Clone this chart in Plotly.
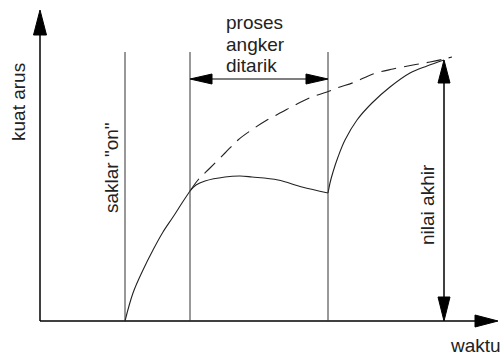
import plotly.graph_objects as go

# ---- data (x = time units, y = current units; origin at axis crossing) ----
AXIS_X0 = 40          # time where axes cross
AXIS_Y_TOP = 311      # top of current axis
AXIS_X_END = 498      # end of time axis
T_ON = 125            # saklar "on"
T_PULL_START = 190    # proses angker ditarik start
T_PULL_END = 328      # proses angker ditarik end
T_FINAL = 444         # nilai akhir
MARK_TOP = 269        # height of vertical marker lines
PULL_ARROW_Y = 242    # height of the double arrow
FINAL_VALUE = 261     # nilai akhir

rise_t = [125, 133, 143, 153, 163, 173, 182, 190]
rise_i = [0, 28, 51, 71, 89, 104, 118, 130]

mid_t = [190, 196, 205, 225, 240, 252, 278, 302, 328]
mid_i = [130, 136, 140, 144, 145, 144, 141, 134, 128]

rec_t = [328, 330, 333, 338, 345, 357, 372, 390, 410, 427, 444]
rec_i = [128, 138, 149, 164, 181, 201, 218, 234, 248, 255, 261]

dash_t = [190, 198, 210, 225, 238, 253, 267, 282, 295, 312, 327, 337, 355, 373, 393, 413, 430, 444, 452]
dash_i = [130, 141, 153, 168, 181, 192, 201, 209, 216, 224, 229, 233, 239, 247, 252, 256, 259, 262, 264]

labels = {
    "y": "kuat arus",
    "x": "waktu",
    "on": 'saklar "on"',
    "pull": ["proses", "angker", "ditarik"],
    "final": "nilai akhir",
}
pull_label_y = [299, 277, 256]

LINE = "#222222"
FONT = dict(family="Liberation Sans, Arial, sans-serif", size=19, color="#222222")

fig = go.Figure()

# curves
fig.add_trace(go.Scatter(x=rise_t, y=rise_i, mode="lines", line=dict(color=LINE, width=1.1, shape="spline")))
fig.add_trace(go.Scatter(x=mid_t, y=mid_i, mode="lines", line=dict(color=LINE, width=1.1, shape="spline")))
fig.add_trace(go.Scatter(x=rec_t, y=rec_i, mode="lines", line=dict(color=LINE, width=1.1, shape="spline")))
fig.add_trace(go.Scatter(x=dash_t, y=dash_i, mode="lines",
                         line=dict(color=LINE, width=1.1, shape="spline", dash="15px,8px")))

shapes = []
# axes
shapes.append(dict(type="line", x0=AXIS_X0, y0=0, x1=AXIS_X0, y1=AXIS_Y_TOP - 10, line=dict(color="black", width=1.5)))
shapes.append(dict(type="line", x0=AXIS_X0, y0=0, x1=AXIS_X_END - 10, y1=0, line=dict(color="black", width=1.5)))
# vertical marker lines
for t in (T_ON, T_PULL_START, T_PULL_END):
    shapes.append(dict(type="line", x0=t, y0=0, x1=t, y1=MARK_TOP, line=dict(color="#333333", width=1)))
# double arrow line
shapes.append(dict(type="line", x0=T_PULL_START + 10, y0=PULL_ARROW_Y, x1=T_PULL_END - 10, y1=PULL_ARROW_Y,
                   line=dict(color="black", width=1.2)))
# nilai akhir line
shapes.append(dict(type="line", x0=T_FINAL, y0=10, x1=T_FINAL, y1=FINAL_VALUE - 10, line=dict(color="black", width=1.5)))


def head(tx, ty, dx, dy, length=24, half=6):
    # tip at (tx, ty), pointing in direction (dx, dy)
    bx, by = tx - dx * length, ty - dy * length
    px, py = -dy * half, dx * half
    return dict(type="path",
                path=f"M {tx},{ty} L {bx + px},{by + py} L {bx - px},{by - py} Z",
                fillcolor="black", line=dict(color="black", width=1))


shapes.append(head(AXIS_X0, AXIS_Y_TOP, 0, 1, 25, 6.5))
shapes.append(head(AXIS_X_END, 0, 1, 0, 23, 6))
shapes.append(head(T_PULL_START, PULL_ARROW_Y, -1, 0, 22, 5))
shapes.append(head(T_PULL_END, PULL_ARROW_Y, 1, 0, 22, 5))
shapes.append(head(T_FINAL, FINAL_VALUE, 0, 1, 23, 6))
shapes.append(head(T_FINAL, 0, 0, -1, 24, 6))

annotations = [
    dict(x=18, y=219, text=labels["y"], textangle=-90, showarrow=False, font=FONT),
    dict(x=111, y=153, text=labels["on"], textangle=-90, showarrow=False, font=FONT),
    dict(x=427, y=116, text=labels["final"], textangle=-90, showarrow=False, font=FONT),
    dict(x=475, y=-24, text=labels["x"], showarrow=False, font=FONT),
]
for txt, yy in zip(labels["pull"], pull_label_y):
    annotations.append(dict(x=224, y=yy, text=txt, showarrow=False, font=FONT,
                            xanchor="left", yanchor="middle"))

fig.update_layout(
    width=503, height=358,
    margin=dict(l=0, r=0, t=0, b=0),
    paper_bgcolor="white", plot_bgcolor="white",
    showlegend=False,
    shapes=shapes, annotations=annotations,
    xaxis=dict(range=[0, 503], visible=False, fixedrange=True),
    yaxis=dict(range=[-37, 321], visible=False, fixedrange=True),
)

fig.write_html("out.html", config={"displayModeBar": False},
               post_script="document.body.style.margin='0';document.body.style.overflow='hidden';")
